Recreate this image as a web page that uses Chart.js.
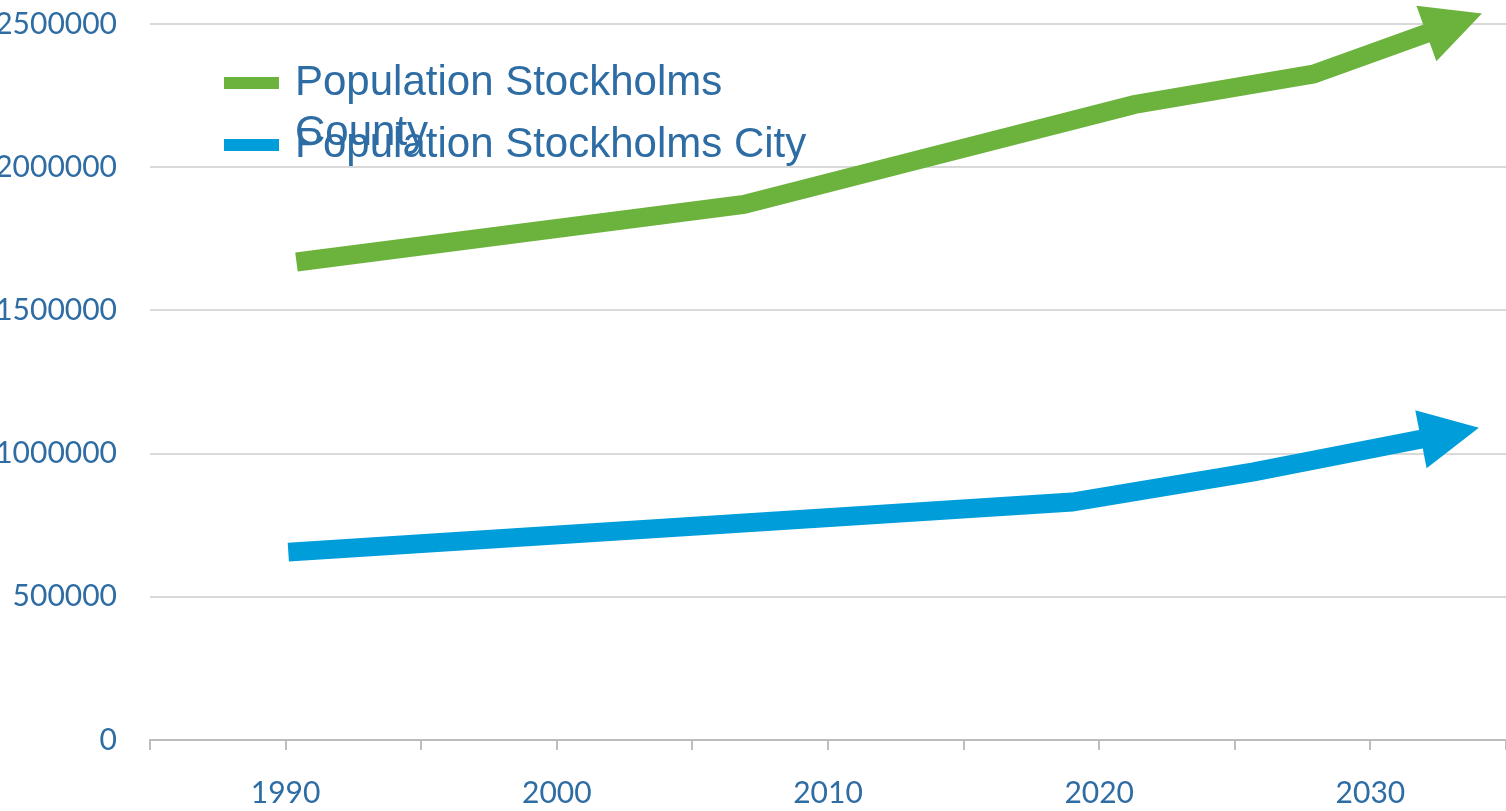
<!DOCTYPE html>
<html>
<head>
<meta charset="utf-8">
<style>
  html, body { margin: 0; padding: 0; background: #fff; }
  #wrap { width: 1506px; height: 811px; }
</style>
<script src="https://cdn.jsdelivr.net/npm/chart.js@4/dist/chart.umd.min.js"></script>
</head>
<body>
<div id="wrap"><canvas id="popChart"></canvas></div>
<script>
// data (years, inhabitants)
const seriesLabels = ['Population Stockholms County', 'Population Stockholms City'];
const countyYears = [1990.4, 2006.9, 2021.3, 2027.9, 2032.1];
const countyValues = [1669000, 1870000, 2219000, 2325000, 2468000];
const cityYears = [1990.1, 2019.0, 2025.7, 2031.9];
const cityValues = [656000, 831000, 936000, 1051000];
const yTicks = [0, 500000, 1000000, 1500000, 2000000, 2500000];
const xTicks = [1990, 2000, 2010, 2020, 2030];

const GREEN = '#6CB33E';
const BLUE = '#009DDB';
const TEXT = '#2E6CA4';

function toPoints(xs, ys) {
    return xs.map((x, i) => ({ x: x, y: ys[i] }));
}

// arrow head on the last point of each line
const arrowHeads = {
    id: 'arrowHeads',
    afterDatasetsDraw(chart) {
        const ctx = chart.ctx;
        chart.data.datasets.forEach((ds, i) => {
            const pts = chart.getDatasetMeta(i).data;
            const a = pts[pts.length - 2], b = pts[pts.length - 1];
            const ang = Math.atan2(b.y - a.y, b.x - a.x);
            const len = 58, half = 29.5;
            ctx.save();
            ctx.translate(b.x, b.y);
            ctx.rotate(ang);
            ctx.beginPath();
            ctx.moveTo(-1, -half);
            ctx.lineTo(len, 0);
            ctx.lineTo(-1, half);
            ctx.closePath();
            ctx.fillStyle = ds.borderColor;
            ctx.fill();
            ctx.restore();
        });
    }
};

// legend drawn inside the plot, with wrapping like the original
const innerLegend = {
    id: 'innerLegend',
    afterDraw(chart) {
        const ctx = chart.ctx;
        const area = chart.chartArea;
        const x0 = area.left + 74, y0 = area.top + 59;
        ctx.save();
        ctx.font = '42px "Liberation Sans", Arial, sans-serif';
        ctx.textBaseline = 'alphabetic';
        chart.data.datasets.forEach((ds, i) => {
            const cy = y0 + i * 62;
            ctx.fillStyle = ds.borderColor;
            ctx.fillRect(x0, cy - 6, 55, 12);
            // wrap words
            const words = ds.label.split(' ');
            let lines = [], cur = '';
            words.forEach(w => {
                const t = cur ? cur + ' ' + w : w;
                if (ctx.measureText(t).width > 540 && cur) { lines.push(cur); cur = w; }
                else cur = t;
            });
            lines.push(cur);
            ctx.fillStyle = TEXT;
            lines.forEach((ln, k) => ctx.fillText(ln, x0 + 71, cy + 12 + k * 50));
        });
        ctx.restore();
    }
};

new Chart(document.getElementById('popChart'), {
    type: 'line',
    data: {
        datasets: [
            {
                label: seriesLabels[0],
                data: toPoints(countyYears, countyValues),
                borderColor: GREEN,
                backgroundColor: GREEN,
                borderWidth: 19,
                pointRadius: 0,
                tension: 0,
                borderCapStyle: 'butt',
                borderJoinStyle: 'miter',
                clip: false
            },
            {
                label: seriesLabels[1],
                data: toPoints(cityYears, cityValues),
                borderColor: BLUE,
                backgroundColor: BLUE,
                borderWidth: 19,
                pointRadius: 0,
                tension: 0,
                borderCapStyle: 'butt',
                borderJoinStyle: 'miter',
                clip: false
            }
        ]
    },
    options: {
        responsive: true,
        maintainAspectRatio: false,
        animation: false,
        layout: { autoPadding: false, padding: { top: 24, right: 0, bottom: 0, left: 0 } },
        plugins: {
            legend: { display: false },
            tooltip: { enabled: false }
        },
        scales: {
            x: {
                type: 'linear',
                min: 1985,
                max: 2035,
                ticks: {
                    stepSize: 5,
                    autoSkip: false,
                    maxRotation: 0,
                    padding: 25,
                    color: TEXT,
                    font: { family: 'Lato', size: 30 },
                    callback: v => xTicks.includes(v) ? String(v) : ''
                },
                grid: {
                    drawOnChartArea: false,
                    drawTicks: true,
                    tickLength: 10,
                    color: '#bdbdbd',
                    lineWidth: 2
                },
                border: { display: true, color: '#bdbdbd', width: 2 },
                afterFit: s => { s.height = 71; s.paddingLeft = 0; s.paddingRight = 0; }
            },
            y: {
                min: 0,
                max: 2500000,
                ticks: {
                    stepSize: 500000,
                    padding: 33,
                    color: TEXT,
                    font: { family: 'Lato', size: 30 },
                    callback: v => yTicks.includes(v) ? String(v) : ''
                },
                grid: {
                    drawTicks: false,
                    color: '#d9d9d9',
                    lineWidth: 2
                },
                border: { display: false },
                afterFit: s => { s.width = 150; s.paddingTop = 0; s.paddingBottom = 0; }
            }
        }
    },
    plugins: [arrowHeads, innerLegend]
});
</script>
</body>
</html>
